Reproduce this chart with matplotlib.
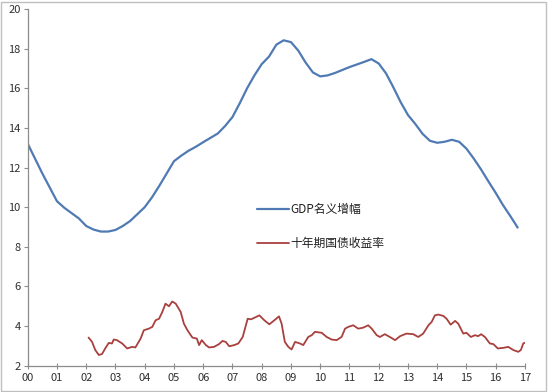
import matplotlib
matplotlib.use("Agg")
import matplotlib.pyplot as plt
from matplotlib.patches import Rectangle

plt.rcParams['font.family'] = ['Noto Sans CJK SC', 'DejaVu Sans']

# x-axis tick labels (years 2000-2017)
year_labels = ["00", "01", "02", "03", "04", "05", "06", "07", "08",
               "09", "10", "11", "12", "13", "14", "15", "16", "17"]

# GDP nominal growth, quarterly from 2000Q1 (x in years since 2000)
gdp_t = [i * 0.25 for i in range(68)]
gdp_v = [13.2, 12.45, 11.7, 11.0, 10.3, 9.97, 9.7, 9.43, 9.05, 8.87, 8.77, 8.77,
         8.85, 9.05, 9.3, 9.65, 10.0, 10.5, 11.08, 11.7, 12.32, 12.6, 12.85, 13.05,
         13.28, 13.5, 13.72, 14.1, 14.55, 15.25, 16.0, 16.65, 17.22, 17.6, 18.2, 18.42,
         18.33, 17.9, 17.3, 16.8, 16.6, 16.65, 16.77, 16.92, 17.07, 17.2, 17.33, 17.47,
         17.25, 16.75, 16.05, 15.3, 14.65, 14.2, 13.7, 13.35, 13.25, 13.3, 13.4, 13.3,
         12.95, 12.45, 11.9, 11.3, 10.72, 10.1, 9.55, 8.97]

# 10-year government bond yield (x in years since 2000)
bond_t = [2.08, 2.2, 2.31, 2.43, 2.54, 2.65, 2.77, 2.88, 2.94, 3.05, 3.23, 3.4, 3.57,
          3.68, 3.86, 3.97, 4.14, 4.26, 4.37, 4.49, 4.6, 4.71, 4.83, 4.94, 5.06, 5.23,
          5.34, 5.46, 5.63, 5.78, 5.86, 5.95, 6.09, 6.2, 6.37, 6.54, 6.66, 6.77, 6.89,
          7.06, 7.2, 7.35, 7.52, 7.63, 7.75, 7.92, 8.09, 8.26, 8.43, 8.59, 8.68, 8.79,
          8.91, 9.02, 9.14, 9.31, 9.42, 9.59, 9.71, 9.82, 10.05, 10.22, 10.39, 10.56,
          10.73, 10.85, 10.96, 11.13, 11.3, 11.47, 11.64, 11.76, 11.93, 12.04, 12.21,
          12.38, 12.56, 12.73, 12.95, 13.18, 13.35, 13.52, 13.7, 13.81, 13.92, 14.04,
          14.21, 14.32, 14.46, 14.61, 14.72, 14.89, 15.0, 15.15, 15.29, 15.4, 15.5,
          15.63, 15.8, 15.92, 16.07, 16.26, 16.43, 16.6, 16.77, 16.86, 16.94, 17.06]
bond_v = [3.42, 3.2, 2.79, 2.54, 2.59, 2.87, 3.15, 3.12, 3.32, 3.29, 3.12, 2.87, 2.95,
          2.92, 3.37, 3.79, 3.87, 3.96, 4.29, 4.37, 4.71, 5.13, 5.0, 5.24, 5.13, 4.71,
          4.12, 3.79, 3.42, 3.37, 3.04, 3.29, 3.04, 2.92, 2.95, 3.09, 3.25, 3.2, 2.98,
          3.04, 3.12, 3.45, 4.37, 4.34, 4.42, 4.54, 4.29, 4.09, 4.29, 4.49, 4.12, 3.2,
          2.95, 2.82, 3.2, 3.12, 3.04, 3.45, 3.54, 3.71, 3.66, 3.45, 3.32, 3.29,
          3.45, 3.87, 3.96, 4.04, 3.87, 3.92, 4.04, 3.87, 3.54, 3.45, 3.59,
          3.45, 3.29, 3.49, 3.62, 3.59, 3.45, 3.62, 4.04, 4.21, 4.54, 4.58,
          4.51, 4.37, 4.07, 4.26, 4.12, 3.62, 3.66, 3.45, 3.54, 3.49, 3.59,
          3.45, 3.12, 3.09, 2.87, 2.9, 2.95, 2.79, 2.7, 2.79, 3.12, 3.2]

series_names = ["GDP名义增幅", "十年期国债收益率"]

fig = plt.figure(figsize=(5.5, 3.92), dpi=100)
ax = fig.add_axes([0.0504, 0.0671, 0.9041, 0.9099])

ax.plot(gdp_t, gdp_v, color='#4f7ab3', lw=1.6, label=series_names[0],
        solid_joinstyle='round', solid_capstyle='round')
ax.plot(bond_t, bond_v, color='#a8403e', lw=1.3, label=series_names[1],
        solid_joinstyle='round', solid_capstyle='round')

ax.set_xlim(0, 17)
ax.set_ylim(2, 20)
ax.set_yticks(range(2, 21, 2))
ax.set_xticks(range(len(year_labels)))
ax.set_xticklabels(year_labels)

for s in ['top', 'right']:
    ax.spines[s].set_visible(False)
for s in ['left', 'bottom']:
    ax.spines[s].set_color('#8c8c8c')
    ax.spines[s].set_linewidth(0.9)
ax.tick_params(axis='both', colors='#8c8c8c', labelcolor='#303030', labelsize=8,
               length=3, width=0.8)
ax.tick_params(axis='x', direction='inout', length=5, pad=3)
ax.tick_params(axis='y', direction='out', pad=2)

leg = ax.legend(loc='upper left', bbox_to_anchor=(257 / 550, 1 - 203 / 392),
                bbox_transform=fig.transFigure, frameon=False, fontsize=8.5,
                handlelength=2.7, handletextpad=0.15, labelspacing=1.8, borderpad=0,
                borderaxespad=0)
for t in leg.get_texts():
    t.set_color('#202020')

fig.add_artist(Rectangle((0.002, 0.002), 0.99, 0.992, transform=fig.transFigure,
                         fill=False, edgecolor='#bfbfbf', lw=1))

fig.savefig('out.png', dpi=100)
